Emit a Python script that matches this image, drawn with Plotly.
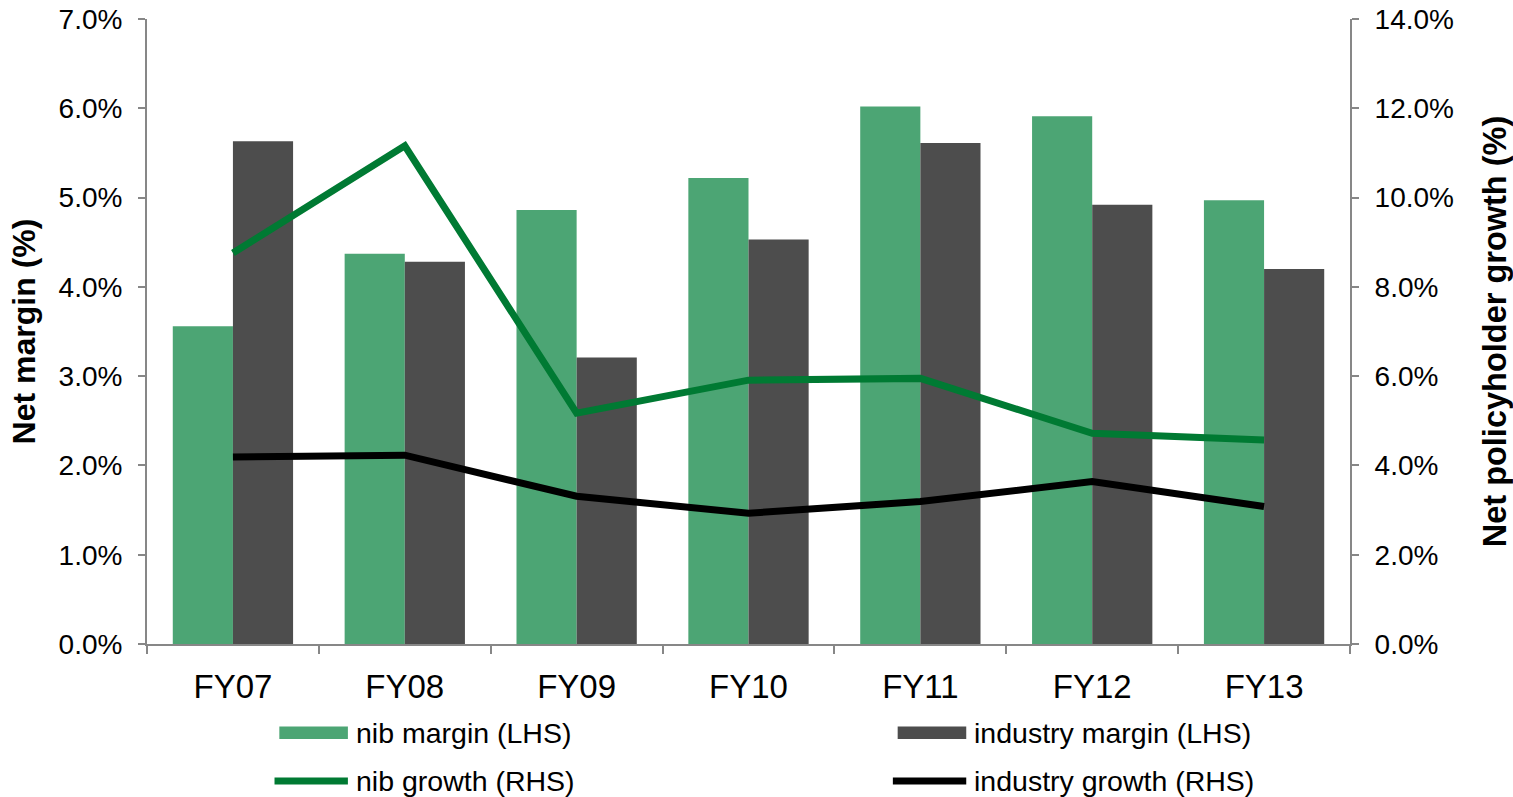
import plotly.graph_objects as go

# Financial years
years = ["FY07", "FY08", "FY09", "FY10", "FY11", "FY12", "FY13"]

# Net margin (%) - left axis
nib_margin = [3.56, 4.37, 4.86, 5.22, 6.02, 5.91, 4.97]
industry_margin = [5.63, 4.28, 3.21, 4.53, 5.61, 4.92, 4.20]

# Net policyholder growth (%) - right axis
nib_growth = [8.76, 11.16, 5.17, 5.91, 5.95, 4.72, 4.57]
industry_growth = [4.19, 4.23, 3.31, 2.93, 3.19, 3.64, 3.08]

GREEN_BAR = "#4ca574"
DARK_BAR = "#4d4d4d"
GREEN_LINE = "#007a33"
BLACK_LINE = "#000000"
AXIS_GREY = "#878787"
FONT = "Liberation Sans, Arial, sans-serif"

fig = go.Figure()

fig.add_trace(go.Bar(
    x=years, y=nib_margin, name="nib margin (LHS)",
    marker=dict(color=GREEN_BAR, line=dict(width=0)),
    yaxis="y", showlegend=False,
))
fig.add_trace(go.Bar(
    x=years, y=industry_margin, name="industry margin (LHS)",
    marker=dict(color=DARK_BAR, line=dict(width=0)),
    yaxis="y", showlegend=False,
))
fig.add_trace(go.Scatter(
    x=years, y=nib_growth, name="nib growth (RHS)", mode="lines",
    line=dict(color=GREEN_LINE, width=7),
    yaxis="y2", showlegend=False,
))
fig.add_trace(go.Scatter(
    x=years, y=industry_growth, name="industry growth (RHS)", mode="lines",
    line=dict(color=BLACK_LINE, width=7),
    yaxis="y2", showlegend=False,
))

# Legend drawn as shapes + text below the plot, two columns
legend_items = [
    ("nib margin (LHS)", "bar", GREEN_BAR, 0.110, -0.142),
    ("industry margin (LHS)", "bar", DARK_BAR, 0.624, -0.142),
    ("nib growth (RHS)", "line", GREEN_LINE, 0.110, -0.219),
    ("industry growth (RHS)", "line", BLACK_LINE, 0.624, -0.219),
]
shapes = []
annotations = []
sym_w = 0.057
for label, kind, color, x0, y in legend_items:
    if kind == "bar":
        shapes.append(dict(type="rect", xref="paper", yref="paper",
                           x0=x0, x1=x0 + sym_w, y0=y - 0.010, y1=y + 0.010,
                           fillcolor=color, line=dict(width=0)))
    else:
        shapes.append(dict(type="line", xref="paper", yref="paper",
                           x0=x0 - 0.004, x1=x0 + sym_w, y0=y, y1=y,
                           line=dict(color=color, width=7)))
    annotations.append(dict(text=label, xref="paper", yref="paper",
                            x=x0 + sym_w + 0.005, y=y, xanchor="left", yanchor="middle",
                            showarrow=False, font=dict(size=28.5, color="#000", family=FONT)))

fig.update_layout(
    width=1513, height=797,
    margin=dict(l=147, r=163, t=19, b=153, autoexpand=False),
    paper_bgcolor="white", plot_bgcolor="white",
    barmode="group", bargap=0.30, bargroupgap=0,
    font=dict(family=FONT, color="#000"),
    xaxis=dict(
        automargin=False,
        showline=True, linecolor=AXIS_GREY, linewidth=2,
        ticks="outside", tickson="boundaries", ticklen=8, tickwidth=2, tickcolor=AXIS_GREY,
        tickfont=dict(size=33, family=FONT, color="#000"),
        ticklabelstandoff=12,
        showgrid=False, zeroline=False,
    ),
    yaxis=dict(
        automargin=False,
        range=[0, 7], dtick=1, tickformat=".1f", ticksuffix="%",
        showline=True, linecolor=AXIS_GREY, linewidth=2,
        ticks="outside", ticklen=7, tickwidth=2, tickcolor=AXIS_GREY,
        tickfont=dict(size=28, family=FONT, color="#000"),
        ticklabelstandoff=10,
        showgrid=False, zeroline=False,
        title=dict(text="<b>Net margin (%)</b>", font=dict(size=32, family=FONT, color="#000"),
                   standoff=13),
    ),
    yaxis2=dict(
        automargin=False,
        range=[0, 14], dtick=2, tickformat=".1f", ticksuffix="%",
        overlaying="y", side="right",
        showline=True, linecolor=AXIS_GREY, linewidth=2,
        ticks="outside", ticklen=7, tickwidth=2, tickcolor=AXIS_GREY,
        tickfont=dict(size=28, family=FONT, color="#000"),
        ticklabelstandoff=10,
        showgrid=False, zeroline=False,
        title=dict(text="<b>Net policyholder growth (%)</b>", font=dict(size=32.5, family=FONT, color="#000"),
                   standoff=30),
    ),
    shapes=shapes,
    annotations=annotations,
)

fig.write_html("out.html")
